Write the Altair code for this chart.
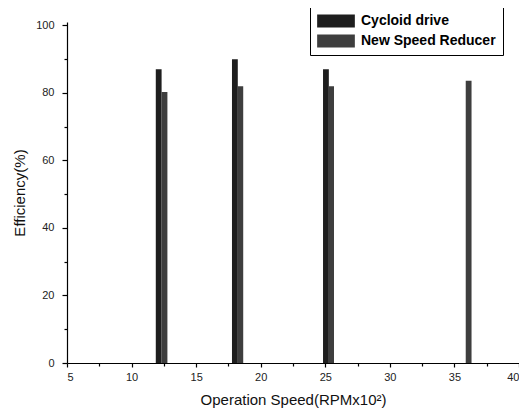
import altair as alt
import pandas as pd

series_names = ["Cycloid drive", "New Speed Reducer"]
cycloid_speed = [12.1, 18.0, 25.05]
cycloid_eff = [87.0, 90.0, 87.0]
reducer_speed = [12.55, 18.42, 25.45, 36.1]
reducer_eff = [80.3, 82.0, 82.0, 83.6]

x_major = [5, 10, 15, 20, 25, 30, 35, 40]
x_minor = [7.5, 12.5, 17.5, 22.5, 27.5, 32.5, 37.5]
y_major = [0, 20, 40, 60, 80, 100]
y_minor = [10, 30, 50, 70, 90]

BAR_W = 0.45
FONT = "Liberation Sans"

rows = []
for s, e in zip(cycloid_speed, cycloid_eff):
    rows.append({"series": series_names[0], "speed": s, "eff": e})
for s, e in zip(reducer_speed, reducer_eff):
    rows.append({"series": series_names[1], "speed": s, "eff": e})
df = pd.DataFrame(rows)

base = alt.Chart(df).transform_calculate(
    x0=f"datum.speed - {BAR_W/2}", x1=f"datum.speed + {BAR_W/2}"
)

xscale = alt.Scale(domain=[5, 40], nice=False, zero=False)
yscale = alt.Scale(domain=[0, 101], nice=False)

bars = base.mark_bar(opacity=1).encode(
    x=alt.X("x0:Q", scale=xscale,
            axis=alt.Axis(orient="bottom", values=x_major, tickSize=4, labelPadding=4,
                          title="Operation Speed(RPMx10²)", titlePadding=10,
                          titleFontSize=15, titleFontWeight="normal", labelFontSize=11,
                          grid=False)),
    x2="x1:Q",
    y=alt.Y("eff:Q", scale=yscale,
            axis=alt.Axis(orient="left", values=y_major, tickSize=5, labelPadding=8,
                          title="Efficiency(%)", titlePadding=8,
                          titleFontSize=15, titleFontWeight="normal", labelFontSize=11,
                          grid=False)),
    y2=alt.datum(0),
    color=alt.Color("series:N",
                    scale=alt.Scale(domain=series_names, range=["#1e1e1e", "#3e3e3e"]),
                    legend=alt.Legend(orient="none", legendX=243, legendY=-15, title=None,
                                      symbolType="M-2.9,-1H2.9V1H-2.9Z", symbolSize=169,
                                      symbolStrokeWidth=0, symbolOpacity=1, symbolOffset=12,
                                      labelFont=FONT, labelFontSize=14, labelFontWeight="bold",
                                      labelColor="black", strokeColor="black", fillColor="white",
                                      padding=7, rowPadding=6, labelOffset=18, cornerRadius=0)),
)

minor = base.mark_bar(opacity=0).encode(
    x=alt.X("x0:Q", scale=xscale,
            axis=alt.Axis(orient="bottom", values=x_minor, tickSize=3, labels=False,
                          domain=False, title=None, grid=False)),
    x2="x1:Q",
    y=alt.Y("eff:Q", scale=yscale,
            axis=alt.Axis(orient="left", values=y_minor, tickSize=3, labels=False,
                          domain=False, title=None, grid=False)),
    y2=alt.datum(0),
)

chart = alt.layer(bars, minor).resolve_axis(x="independent", y="independent").properties(
    width=452, height=341,
    autosize=alt.AutoSizeParams(type="none"),
    padding={"left": 59, "top": 14, "right": 0, "bottom": 49},
).configure_view(stroke=None).configure_axis(
    labelFont=FONT, titleFont=FONT, domainColor="black", tickColor="black",
    labelColor="#222", titleColor="#111", domainWidth=1.2, tickWidth=1.2,
)

chart.save("out.html", embed_options={"renderer": "svg", "actions": False})
